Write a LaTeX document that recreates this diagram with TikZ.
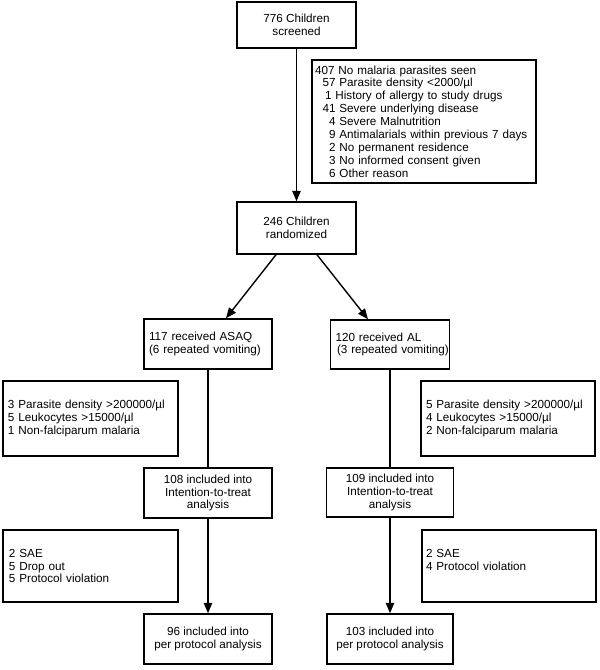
\documentclass[tikz,border=0pt]{standalone}
\usepackage{fontspec}
\setmainfont{Liberation Sans}
\usetikzlibrary{arrows.meta}
\begin{document}
\begin{tikzpicture}[x=1pt,y=-1pt,
  every node/.style={font=\fontsize{11.7}{12.9}\selectfont},
  cbox/.style={draw,line width=1.5pt,align=center,inner sep=0pt},
  lbox/.style={draw,line width=1.5pt,align=left,inner ysep=0pt},
  arr/.style={line width=1.4pt,-{Triangle[length=10.5pt,width=8.5pt]}},
  ln/.style={line width=1.3pt}
]
\useasboundingbox (0,0) rectangle (600,670);

\node[cbox,minimum width=119pt,minimum height=46pt] (top) at (296.5,25) {776 Children\\screened};

\node[lbox,inner xsep=3pt,text width=218pt,minimum height=123pt] (excl) at (424,121.5)
 {407 No malaria parasites seen\\
  \hspace*{7.5pt}57 Parasite density <2000/µl\\
  \hspace*{10pt}1 History of allergy to study drugs\\
  \hspace*{7.5pt}41 Severe underlying disease\\
  \hspace*{14pt}4 Severe Malnutrition\\
  \hspace*{14pt}9 Antimalarials within previous 7 days\\
  \hspace*{14pt}2 No permanent residence\\
  \hspace*{14pt}3 No informed consent given\\
  \hspace*{14pt}6 Other reason};

\node[cbox,minimum width=119pt,minimum height=52pt] (rand) at (296.5,228) {246 Children\\randomized};

\node[lbox,inner xsep=5pt,text width=118pt,minimum height=50pt] (asaq) at (208,344)
 {117 received ASAQ\\(6 repeated vomiting)};
\node[lbox,inner xsep=5pt,text width=109pt,minimum height=49pt] (al) at (390,344.5)
 {120 received AL\\\mbox{\hspace*{1.5pt}(3 repeated vomiting)}};

\node[lbox,inner xsep=5pt,text width=165pt,minimum height=75pt] (exL1) at (90.5,418.5)
 {3 Parasite density >200000/µl\\5 Leukocytes >15000/µl\\1 Non-falciparum malaria};
\node[lbox,inner xsep=5pt,text width=164pt,minimum height=75pt] (exR1) at (508,418.5)
 {5 Parasite density >200000/µl\\4 Leukocytes >15000/µl\\2 Non-falciparum malaria};

\node[cbox,minimum width=128pt,minimum height=50pt] (ittL) at (208,493)
 {108 included into\\Intention-to-treat\\analysis};
\node[cbox,minimum width=127pt,minimum height=49pt] (ittR) at (390,492.5)
 {109 included into\\Intention-to-treat\\analysis};

\node[lbox,inner xsep=6pt,text width=163pt,minimum height=72pt] (exL2) at (90.5,566)
 {2 SAE\\5 Drop out\\5 Protocol violation};
\node[lbox,inner xsep=4pt,text width=166pt,minimum height=72pt] (exR2) at (509,566)
 {2 SAE\\4 Protocol violation\\\mbox{}};

\node[cbox,minimum width=128pt,minimum height=50pt] (ppL) at (208,639)
 {96 included into\\per protocol analysis};
\node[cbox,minimum width=126pt,minimum height=50pt] (ppR) at (390,639)
 {103 included into\\per protocol analysis};

\draw[arr] (top.south) -- (rand.north);
\draw[arr] ([xshift=-20.5pt]rand.south) -- ([xshift=18pt]asaq.north);
\draw[arr] ([xshift=20.5pt]rand.south) -- ([xshift=-22pt]al.north);
\draw[ln] (asaq.south) -- (ittL.north);
\draw[ln] (al.south) -- (ittR.north);
\draw[arr] (ittL.south) -- (ppL.north);
\draw[arr] (ittR.south) -- (ppR.north);
\end{tikzpicture}
\end{document}
